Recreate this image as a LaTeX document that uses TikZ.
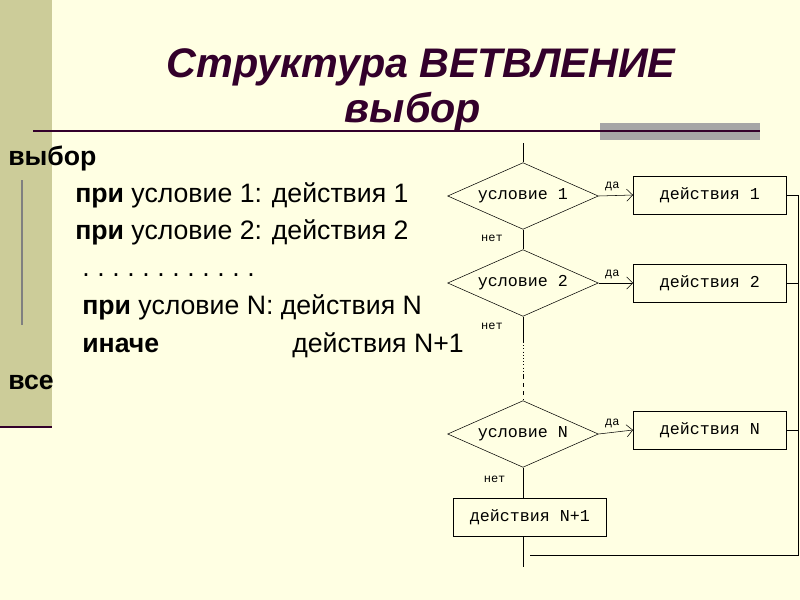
\documentclass[tikz,border=0pt]{standalone}
\usepackage{fontspec}
\setmainfont{Liberation Sans}
\newfontfamily\chartfont{Liberation Mono}
\usetikzlibrary{positioning,arrows.meta,shapes.geometric}
\usepackage{xcolor}
\definecolor{paper}{HTML}{FFFFE3}
\definecolor{strip}{HTML}{CCCC99}
\definecolor{plum}{HTML}{33002B}
\definecolor{rulegrey}{HTML}{A6A6A6}

\begin{document}
\begin{tikzpicture}[x=0.75pt,y=-0.75pt,>={Straight Barb[length=1.6mm]},
  cond/.style={draw,diamond,aspect=2.3,inner sep=0pt,minimum width=113pt,minimum height=50pt,font=\chartfont\fontsize{12.5}{13}\selectfont},
  act/.style={draw,rectangle,inner sep=0pt,minimum width=115pt,minimum height=28.5pt,font=\chartfont\fontsize{12.5}{13}\selectfont},
  tag/.style={font=\chartfont\fontsize{9}{9}\selectfont,inner sep=1pt},
  body/.style={anchor=base west,inner sep=0pt,font=\fontsize{20}{22}\selectfont},
  head/.style={anchor=base,inner sep=0pt,plum,font=\fontsize{31}{36}\selectfont\bfseries\itshape}]
% slide background
\useasboundingbox (0,0) rectangle (800,600);
\fill[paper] (0,0) rectangle (800,600);
\fill[strip] (0,0) rectangle (52,428);
\draw[plum,line width=2pt] (0,427) -- (52,427);
\fill[rulegrey] (600,123) rectangle (760,140);
\draw[plum,line width=1.2pt] (33,131) -- (760,131);
\draw[gray,line width=0.8pt] (22,180) -- (22,325);
% title
\node[head] (title) at (421,77) {Структура ВЕТВЛЕНИЕ};
\node[head] (sub) at (413,122) {выбор};
% left text
\node[body] (kw) at (8,165) {\textbf{выбор}};
\node[body] (p1) at (75,202) {\textbf{при} условие 1: действия 1};
\node[body] (p2) at (75,239) {\textbf{при} условие 2: действия 2};
\node[body] (dots) at (82,276) {\frenchspacing\spaceskip=5.7pt\xspaceskip=5.7pt . . . . . . . . . . . .};
\node[body] (pN) at (82,314) {\textbf{при} условие N: действия N};
\node[body] (els) at (82,352) {\textbf{иначе}};
\node[body] (aEls) at (292,352) {действия N+1};
\node[body] (kwEnd) at (8,389) {\textbf{все}};
% flowchart
\coordinate (entry) at (523,143);
\node[cond] (c1) at (523,196) {условие 1};
\node[cond] (c2) at (523,283) {условие 2};
\node[cond] (cN) at (523,434) {условие N};
\node[act] (a1) at (710,195) {действия 1};
\node[act] (a2) at (710,283) {действия 2};
\node[act] (aN) at (710,430) {действия N};
\node[act] (aN1) at (530,517) {действия N+1};
\coordinate (gapA) at (523,342);
\coordinate (gapB) at (523,375);
\coordinate (busEnd) at (798,555);
\coordinate (join) at (530,555);
\coordinate (exit) at (523,567);
\draw (entry) -- (c1.north);
\draw[->] (c1.east) -- (a1.west) node[tag,pos=0.4,above=2pt] (y1) {да};
\draw[->] (c2.east) -- (a2.west) node[tag,pos=0.4,above=2pt] (y2) {да};
\draw[->] (cN.east) -- (aN.west) node[tag,pos=0.4,above=2pt] (yN) {да};
\draw (c1.south) -- (c2.north) node[tag,pos=0.45,left=14pt] (n1) {нет};
\draw (c2.south) -- (gapA) node[tag,pos=0.4,left=14pt] (n2) {нет};
\draw[dotted] (gapA) -- (gapB);
\draw[dashed] (gapB) -- (cN.north);
\draw (cN.south) -- (cN.south |- aN1.north) node[tag,pos=0.4,left=12pt] (nN) {нет};
\draw (aN1.south -| exit) -- (exit);
\draw (a1.east) -- (a1.east -| busEnd) -- (busEnd) -- (join);
\draw (a2.east) -- (a2.east -| busEnd);
\draw (aN.east) -- (aN.east -| busEnd);
\end{tikzpicture}
\end{document}
